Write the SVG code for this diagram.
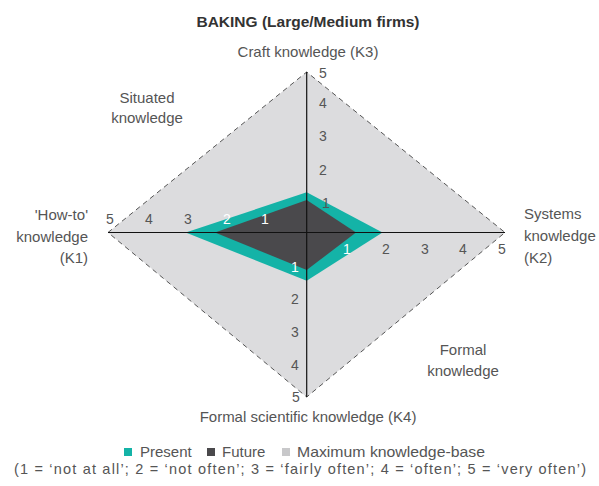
<svg xmlns="http://www.w3.org/2000/svg" width="599" height="486" viewBox="0 0 599 486">
<style>
text{font-family:"Liberation Sans",Arial,sans-serif;fill:#555}
.t{font-size:15px}
.n{font-size:14px;text-anchor:middle}
.w{fill:#fff}
.title{font-size:15.5px;font-weight:bold;fill:#333;text-anchor:middle}
.lg{font-size:15px}
</style>
<rect width="599" height="486" fill="#fff"/>
<g id="max-area">
<polygon points="108,232.5 306.7,72 505,232.5 306.7,397" fill="#dcdcde" stroke="#555" stroke-width="1" stroke-dasharray="5,4"/>
</g>
<g id="present">
<polygon points="185.7,232.5 306.7,192.3 382.5,232.5 306.7,280.7" fill="#14b3a7"/>
</g>
<g id="future">
<polygon points="215,232.5 306.7,200 356,232.5 306.7,270" fill="#4a494c"/>
</g>
<g id="connectors">
<line x1="108" y1="232.5" x2="505" y2="232.5" stroke="#111" stroke-width="1.2"/>
<line x1="306.7" y1="72" x2="306.7" y2="397" stroke="#111" stroke-width="1.2"/>
</g>
<g id="ticks">
<text class="n" x="110" y="224">5</text>
<text class="n" x="149" y="224">4</text>
<text class="n" x="188" y="224">3</text>
<text class="n w" x="227" y="224">2</text>
<text class="n w" x="265" y="224">1</text>
<text class="n w" x="347" y="254">1</text>
<text class="n" x="386" y="254">2</text>
<text class="n" x="425" y="254">3</text>
<text class="n" x="463" y="254">4</text>
<text class="n" x="502" y="254">5</text>
<text class="n" x="323" y="78">5</text>
<text class="n" x="323" y="108">4</text>
<text class="n" x="323" y="141">3</text>
<text class="n" x="323" y="175">2</text>
<text class="n" x="326" y="208">1</text>
<text class="n w" x="295" y="272">1</text>
<text class="n" x="295" y="304">2</text>
<text class="n" x="295" y="337">3</text>
<text class="n" x="295" y="370">4</text>
<text class="n" x="296" y="402">5</text>
</g>
<g id="title"><text class="title" x="308" y="27">BAKING (Large/Medium firms)</text></g>
<g id="k3"><text class="t" x="308" y="57" text-anchor="middle">Craft knowledge (K3)</text></g>
<g id="k4"><text class="t" x="308" y="422" text-anchor="middle">Formal scientific knowledge (K4)</text></g>
<g id="k1" text-anchor="end">
<text class="t" x="88" y="220">'How-to'</text>
<text class="t" x="88" y="242">knowledge</text>
<text class="t" x="88" y="263">(K1)</text>
</g>
<g id="k2">
<text class="t" x="524" y="219">Systems</text>
<text class="t" x="524" y="241">knowledge</text>
<text class="t" x="524" y="263">(K2)</text>
</g>
<g id="situated" text-anchor="middle">
<text class="t" x="147" y="103">Situated</text>
<text class="t" x="147" y="123">knowledge</text>
</g>
<g id="formal" text-anchor="middle">
<text class="t" x="463" y="355">Formal</text>
<text class="t" x="463" y="376">knowledge</text>
</g>
<g id="legend">
<rect x="124" y="448" width="8" height="8" fill="#14b3a7"/>
<text class="lg" x="140" y="457">Present</text>
<rect x="207" y="448" width="8" height="8" fill="#4a494c"/>
<text class="lg" x="222" y="457">Future</text>
<rect x="282" y="448" width="8" height="8" fill="#c8c8ca"/>
<text class="lg" x="297" y="457" textLength="188" lengthAdjust="spacingAndGlyphs">Maximum knowledge-base</text>
</g>
<g id="note"><text x="14" y="474" font-size="14.5" textLength="572" lengthAdjust="spacing">(1 = ‘not at all’; 2 = ‘not often’; 3 = ‘fairly often’; 4 = ‘often’; 5 = ‘very often’)</text></g>
</svg>
